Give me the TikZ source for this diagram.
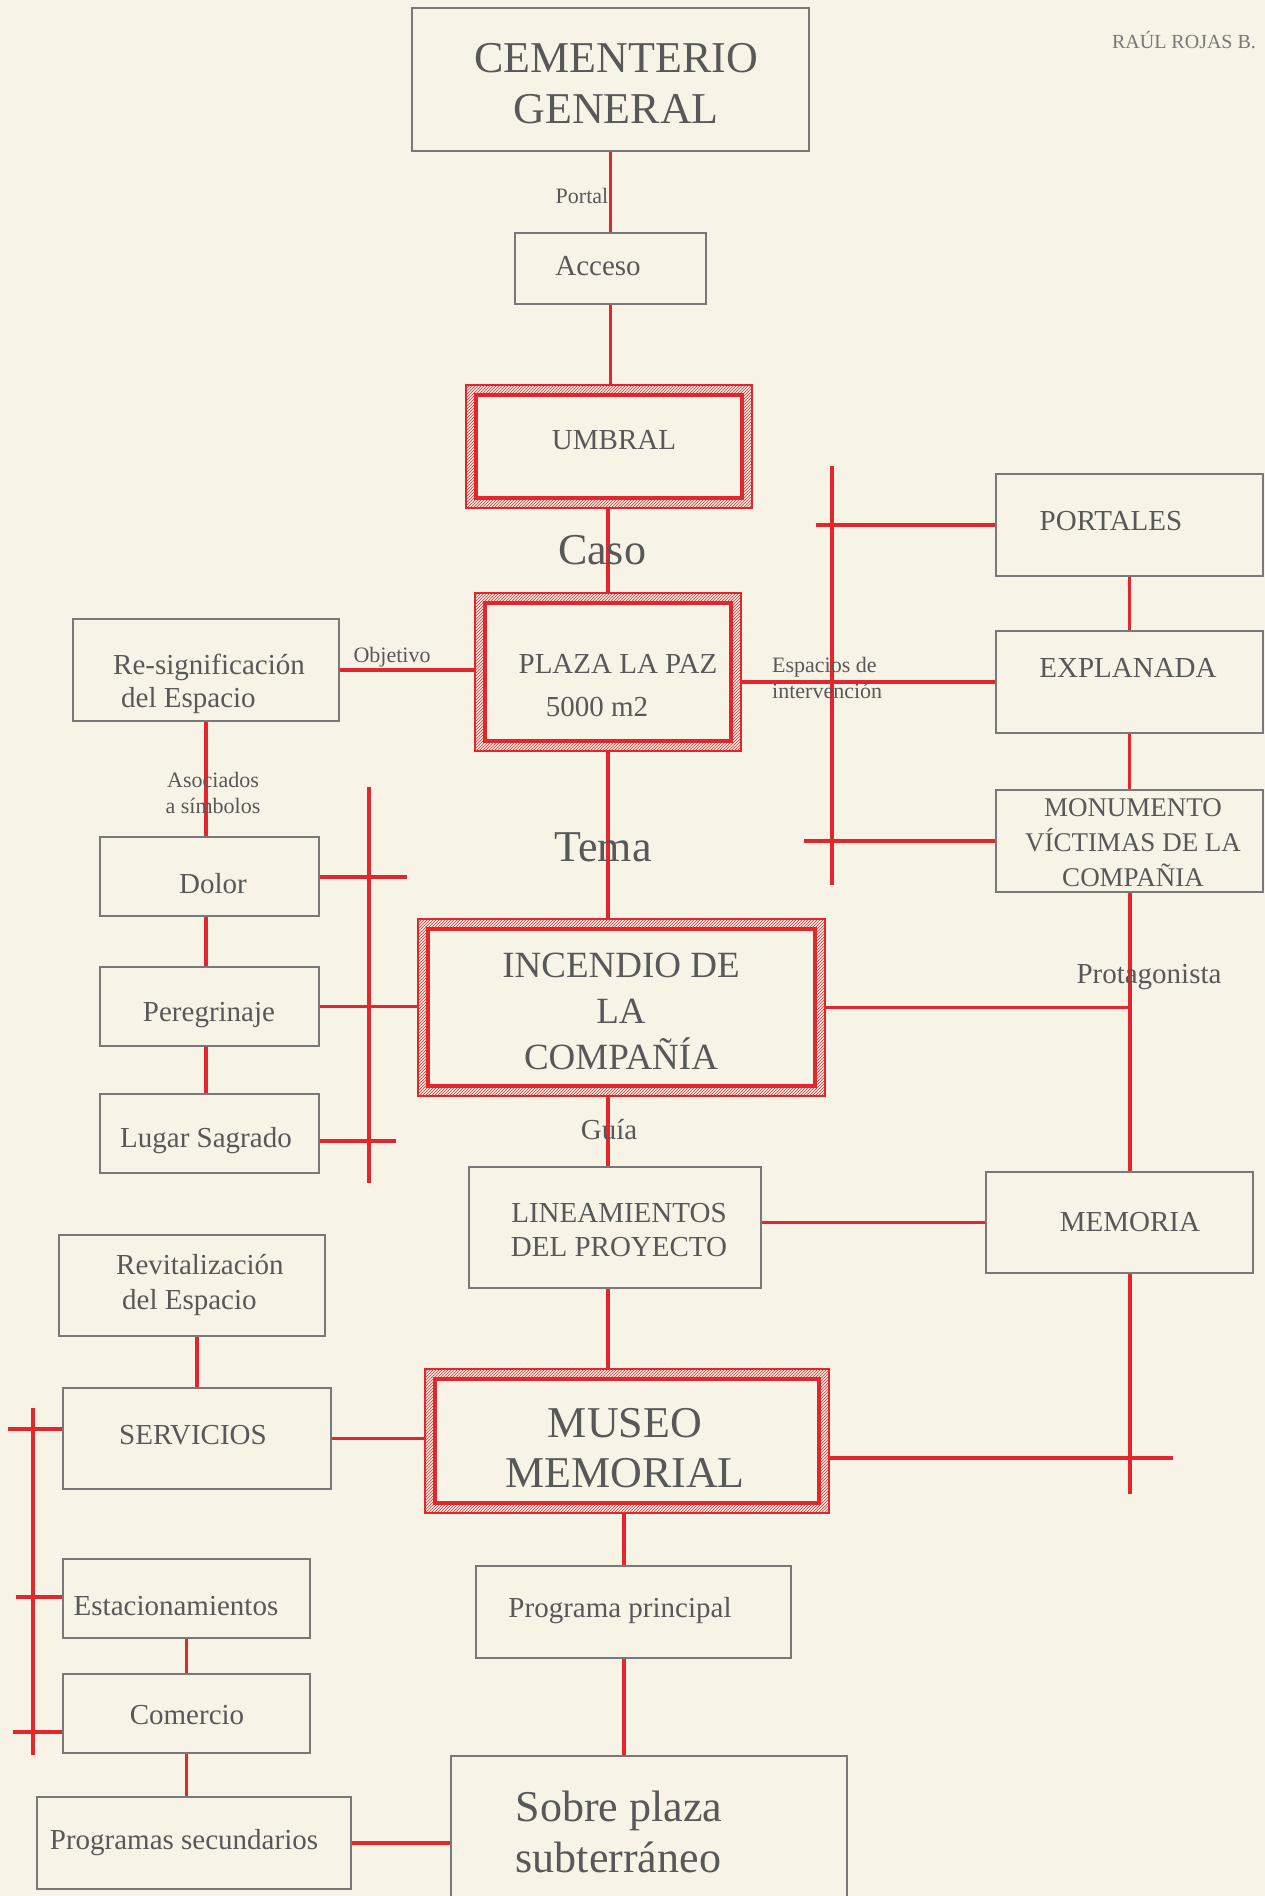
\documentclass[tikz,border=0pt]{standalone}
\usepackage{fontspec}
\setmainfont{Liberation Serif}
\usetikzlibrary{fit,patterns}
\definecolor{bg}{HTML}{F7F3E6}
\definecolor{rl}{HTML}{E3262B}
\definecolor{bxc}{HTML}{787878}
\definecolor{txc}{HTML}{585858}
\newcommand\fsz[2]{\fontsize{#1}{#2}\selectfont}
\newcommand\mkbox[5]{%
  \path (#2,#3) coordinate (#1-a) (#4,#5) coordinate (#1-b);
  \node[box, fit=(#1-a)(#1-b)] (#1) {};}
\newcommand\mkdbox[5]{%
  \path (#2,#3) coordinate (#1-a) (#4,#5) coordinate (#1-b);
  \node[dbox, fit=(#1-a)(#1-b)] (#1) {};
  \draw[draw=rl, line width=3.8pt, fill=bg] ([shift={(10,10)}]#1-a) rectangle ([shift={(-10,-10)}]#1-b);}
\begin{document}
\begin{tikzpicture}[x=1pt,y=-1pt,
  box/.style={draw=bxc, line width=2.4pt, fill=bg, inner sep=0pt},
  dbox/.style={draw=rl, line width=1.6pt, inner sep=0pt, pattern=north east lines, pattern color=rl},
  rline/.style={draw=rl, line width=3.3pt},
  lbl/.style={text=txc, inner sep=0pt, align=center},
]
\useasboundingbox (0,0) rectangle (1265,1896);
\fill[bg] (0,0) rectangle (1265,1896);

% boxes
\mkbox{cem}{412}{8}{809}{151}
\mkbox{acc}{515}{233}{706}{304}
\mkdbox{umb}{466}{385}{752}{508}
\mkdbox{plaza}{475}{593}{741}{751}
\mkbox{resig}{73}{619}{339}{721}
\mkbox{dolor}{100}{837}{319}{916}
\mkbox{pere}{100}{967}{319}{1046}
\mkbox{lugar}{100}{1094}{319}{1173}
\mkdbox{inc}{418}{919}{825}{1096}
\mkbox{lin}{469}{1167}{761}{1288}
\mkbox{mem}{986}{1172}{1253}{1273}
\mkbox{port}{996}{474}{1263}{576}
\mkbox{expl}{996}{631}{1263}{733}
\mkbox{monu}{996}{790}{1263}{892}
\mkbox{revit}{59}{1235}{325}{1336}
\mkbox{serv}{63}{1388}{331}{1489}
\mkbox{est}{63}{1559}{310}{1638}
\mkbox{com}{63}{1674}{310}{1753}
\mkbox{psec}{37}{1797}{351}{1889}
\mkdbox{mus}{425}{1369}{829}{1513}
\mkbox{pp}{476}{1566}{791}{1658}
\mkbox{sob}{451}{1756}{847}{1910}

% connectors
\draw[rline] (cem.south) -- (acc.north);
\draw[rline] (acc.south) -- (acc.south |- umb.north);
\draw[rline] (umb.south -| plaza.north) -- (plaza.north);
\draw[rline] (resig.east) -- (resig.east -| plaza.west);
\draw[rline] (expl.west -| plaza.east) -- (expl.west);
\coordinate (vr1) at (832,466); \coordinate (vr2) at (832,885);
\draw[rline] (vr1) -- (vr2);
\coordinate (tp) at (816,525); \draw[rline] (tp) -- (tp -| port.west);
\coordinate (tm) at (804,841); \draw[rline] (tm) -- (tm -| monu.west);
\draw[rline] (port.south) -- (expl.north);
\draw[rline] (expl.south) -- (monu.north);
\coordinate (rx) at (1130,1494);
\draw[rline] (monu.south -| rx) -- (mem.north -| rx);
\draw[rline] (mem.south -| rx) -- (rx);
\draw[rline] (inc.east) -- (inc.east -| rx);
\draw[rline] (mem.west -| lin.east) -- (mem.west);
\coordinate (re) at (1173,1458);
\draw[rline] (re -| mus.east) -- (re);
\draw[rline] (plaza.south) -- (plaza.south |- inc.north);
\draw[rline] (inc.south -| plaza.south) -- (lin.north -| plaza.south);
\draw[rline] (lin.south -| plaza.south) -- (mus.north -| plaza.south);
\coordinate (mx) at (624,1600);
\draw[rline] (mus.south -| mx) -- (pp.north -| mx);
\draw[rline] (pp.south -| mx) -- (sob.north -| mx);
\draw[rline] (resig.south) -- (resig.south |- dolor.north);
\draw[rline] (dolor.south -| resig.south) -- (pere.north -| resig.south);
\draw[rline] (pere.south -| resig.south) -- (lugar.north -| resig.south);
\coordinate (vl1) at (369,787); \coordinate (vl2) at (369,1183);
\draw[rline] (vl1) -- (vl2);
\coordinate (td) at (407,877); \draw[rline] (td -| dolor.east) -- (td);
\draw[rline] (pere.east) -- (pere.east -| inc.west);
\coordinate (tl) at (396,1141); \draw[rline] (tl -| lugar.east) -- (tl);
\draw[rline] (serv.north |- revit.south) -- (serv.north);
\draw[rline] (serv.east) -- (serv.east -| mus.west);
\coordinate (vs1) at (33,1408); \coordinate (vs2) at (33,1755);
\draw[rline] (vs1) -- (vs2);
\coordinate (ts) at (8,1429); \draw[rline] (ts) -- (ts -| serv.west);
\coordinate (te) at (16,1597); \draw[rline] (te) -- (te -| est.west);
\coordinate (tc) at (13,1732); \draw[rline] (tc) -- (tc -| com.west);
\draw[rline] (est.south) -- (com.north);
\draw[rline] (com.south) -- (com.south |- psec.north);
\draw[rline] (psec.east) -- (psec.east -| sob.west);

% texts
\node[lbl, font=\fsz{44}{51}] (t-cem) at (616,84) {CEMENTERIO\\GENERAL};
\node[lbl, font=\fsz{29}{35}] (t-acc) at (598,266) {Acceso};
\node[lbl, font=\fsz{22}{26}] (t-portal) at (582,196) {Portal};
\node[lbl, font=\fsz{29}{35}] (t-umb) at (614,440) {UMBRAL};
\node[lbl, font=\fsz{44}{51}] (t-caso) at (602,550) {Caso};
\node[lbl, font=\fsz{29}{35}] (t-plaza) at (618,664) {PLAZA LA PAZ};
\node[lbl, font=\fsz{29}{35}] (t-m2) at (597,707) {5000 m2};
\node[lbl, font=\fsz{29}{33}, align=left, anchor=west] (t-resig) at (113,684) {Re-significación\\\hspace*{8pt}del Espacio};
\node[lbl, font=\fsz{22}{26}] (t-obj) at (392,657) {Objetivo};
\node[lbl, font=\fsz{22}{26}, align=left, anchor=west] (t-esp) at (772,678) {Espacios de\\intervención};
\node[lbl, font=\fsz{22}{26}] (t-asoc) at (213,793) {Asociados\\a símbolos};
\node[lbl, font=\fsz{29}{35}] (t-dolor) at (213,884) {Dolor};
\node[lbl, font=\fsz{29}{35}] (t-pere) at (209,1015) {Peregrinaje};
\node[lbl, font=\fsz{29}{35}] (t-lugar) at (206,1141) {Lugar Sagrado};
\node[lbl, font=\fsz{44}{51}] (t-tema) at (603,847) {Tema};
\node[lbl, font=\fsz{37}{46}] (t-inc) at (621,1011) {INCENDIO DE\\LA\\COMPAÑÍA};
\node[lbl, font=\fsz{29}{35}] (t-prot) at (1149,977) {Protagonista};
\node[lbl, font=\fsz{29}{35}] (t-guia) at (609,1130) {Guía};
\node[lbl, font=\fsz{29}{34}] (t-lin) at (619,1230) {LINEAMIENTOS\\DEL PROYECTO};
\node[lbl, font=\fsz{29}{35}] (t-mem) at (1130,1222) {MEMORIA};
\node[lbl, font=\fsz{29}{35}] (t-port) at (1111,521) {PORTALES};
\node[lbl, font=\fsz{29}{35}] (t-expl) at (1128,668) {EXPLANADA};
\node[lbl, font=\fsz{27}{35}] (t-monu) at (1133,843) {MONUMENTO\\VÍCTIMAS DE LA\\COMPAÑIA};
\node[lbl, font=\fsz{20}{24}, text=bxc] (t-autor) at (1184,40) {RAÚL ROJAS B.};
\node[lbl, font=\fsz{29}{35}, align=left, anchor=west] (t-revit) at (116,1285) {Revitalización\\\hspace*{6pt}del Espacio};
\node[lbl, font=\fsz{29}{35}] (t-serv) at (193,1435) {SERVICIOS};
\node[lbl, font=\fsz{29}{35}] (t-est) at (176,1606) {Estacionamientos};
\node[lbl, font=\fsz{29}{35}] (t-com) at (187,1715) {Comercio};
\node[lbl, font=\fsz{29}{35}] (t-psec) at (184,1843) {Programas secundarios};
\node[lbl, font=\fsz{29}{35}] (t-pp) at (620,1611) {Programa principal};
\node[lbl, font=\fsz{44}{50}] (t-mus) at (625,1448) {MUSEO\\MEMORIAL};
\node[lbl, font=\fsz{44}{51}, align=left] (t-sob) at (619,1832) {Sobre plaza\\subterráneo};
\end{tikzpicture}
\end{document}
